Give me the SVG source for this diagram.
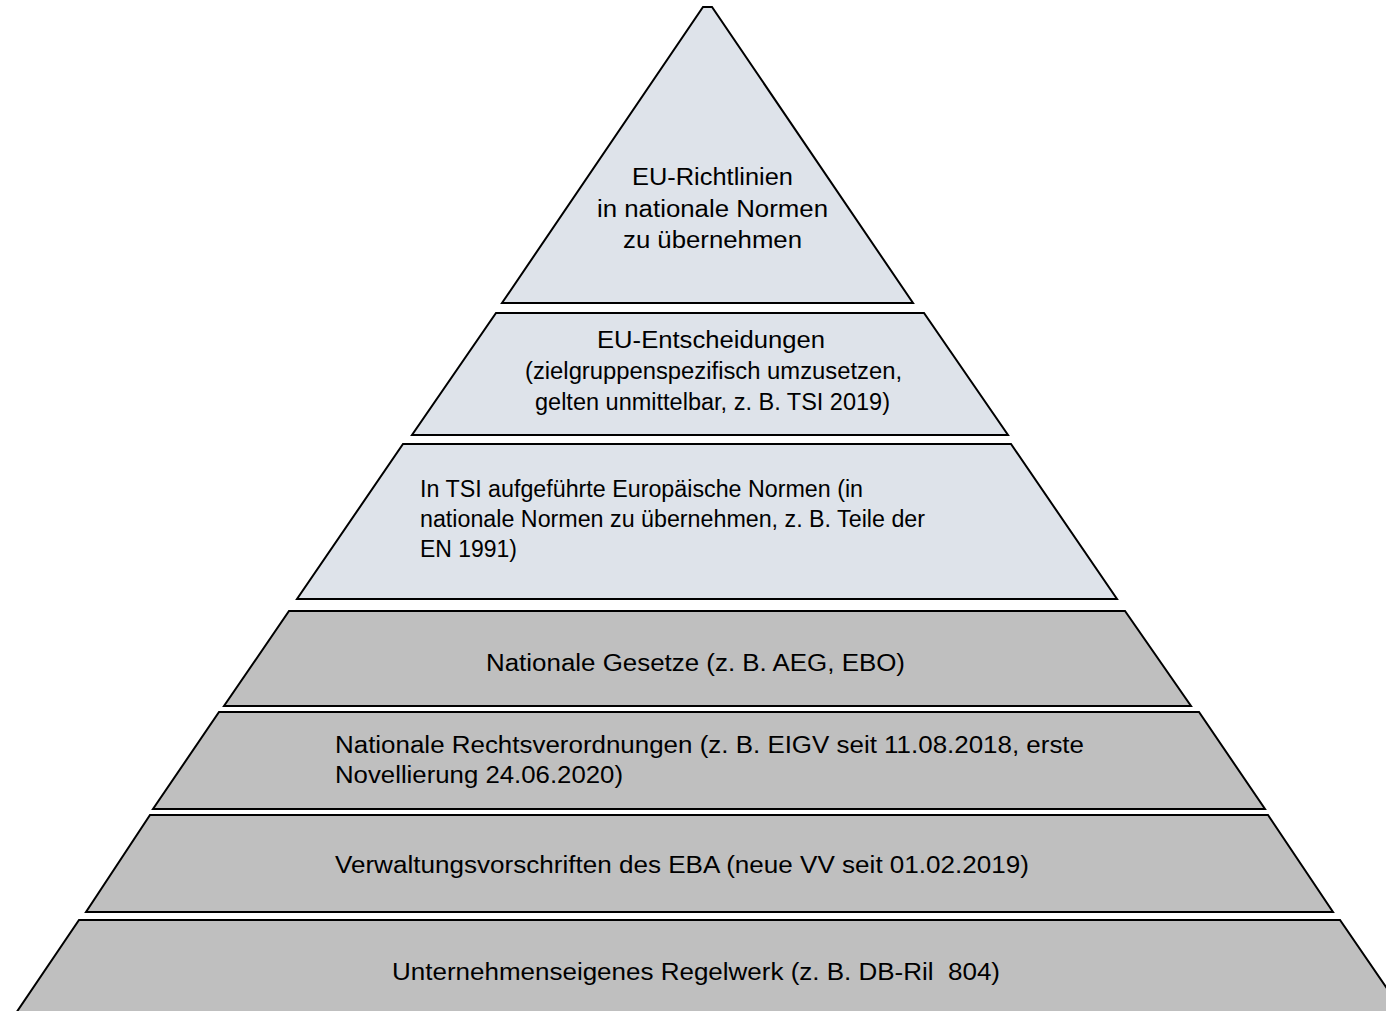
<svg xmlns="http://www.w3.org/2000/svg" width="1386" height="1011" viewBox="0 0 1386 1011">
  <style>
    .lt { fill: #dee3ea; stroke: #000; stroke-width: 2; stroke-linejoin: miter; }
    .dk { fill: #bfbfbf; stroke: #000; stroke-width: 2; stroke-linejoin: miter; }
    text { font-family: "Liberation Sans", Arial, sans-serif; font-size: 23px; fill: #000; white-space: pre; }
    .c { text-anchor: middle; }
  </style>
  <rect width="1386" height="1011" fill="#ffffff"/>
  <g id="layer1">
    <polygon class="lt" points="703,7 712,7 913,303 502,303"/>
    <text class="c" x="712.5" y="185" textLength="161" lengthAdjust="spacingAndGlyphs">EU-Richtlinien</text>
    <text class="c" x="712.5" y="217" textLength="231" lengthAdjust="spacingAndGlyphs">in nationale Normen</text>
    <text class="c" x="712.5" y="248" textLength="179" lengthAdjust="spacingAndGlyphs">zu übernehmen</text>
  </g>
  <g id="layer2">
    <polygon class="lt" points="496,313 924,313 1008,435 412,435"/>
    <text class="c" x="711" y="348" textLength="228" lengthAdjust="spacingAndGlyphs">EU-Entscheidungen</text>
    <text class="c" x="713.5" y="379" textLength="377" lengthAdjust="spacingAndGlyphs">(zielgruppenspezifisch umzusetzen,</text>
    <text class="c" x="712.5" y="410" textLength="355" lengthAdjust="spacingAndGlyphs">gelten unmittelbar, z. B. TSI 2019)</text>
  </g>
  <g id="layer3">
    <polygon class="lt" points="403,444 1011,444 1117,599 297,599"/>
    <text x="420" y="497" textLength="443" lengthAdjust="spacingAndGlyphs">In TSI aufgeführte Europäische Normen (in</text>
    <text x="420" y="527" textLength="505" lengthAdjust="spacingAndGlyphs">nationale Normen zu übernehmen, z. B. Teile der</text>
    <text x="420" y="557" textLength="97" lengthAdjust="spacingAndGlyphs">EN 1991)</text>
  </g>
  <g id="layer4">
    <polygon class="dk" points="289,611 1125,611 1191,706 224,706"/>
    <text class="c" x="695.5" y="671" textLength="419" lengthAdjust="spacingAndGlyphs">Nationale Gesetze (z. B. AEG, EBO)</text>
  </g>
  <g id="layer5">
    <polygon class="dk" points="219,712 1199,712 1265,809 153,809"/>
    <text x="335" y="753" textLength="749" lengthAdjust="spacingAndGlyphs">Nationale Rechtsverordnungen (z. B. EIGV seit 11.08.2018, erste</text>
    <text x="335" y="783" textLength="288" lengthAdjust="spacingAndGlyphs">Novellierung 24.06.2020)</text>
  </g>
  <g id="layer6">
    <polygon class="dk" points="150,815 1268,815 1333,912 86,912"/>
    <text x="335" y="873" textLength="694" lengthAdjust="spacingAndGlyphs">Verwaltungsvorschriften des EBA (neue VV seit 01.02.2019)</text>
  </g>
  <g id="layer7">
    <polygon class="dk" points="79,920 1340,920 1406,1016 14,1016"/>
    <text x="392" y="980" textLength="608" lengthAdjust="spacingAndGlyphs">Unternehmenseigenes Regelwerk (z. B. DB-Ril  804)</text>
  </g>
  <g id="connectors"/>
</svg>
